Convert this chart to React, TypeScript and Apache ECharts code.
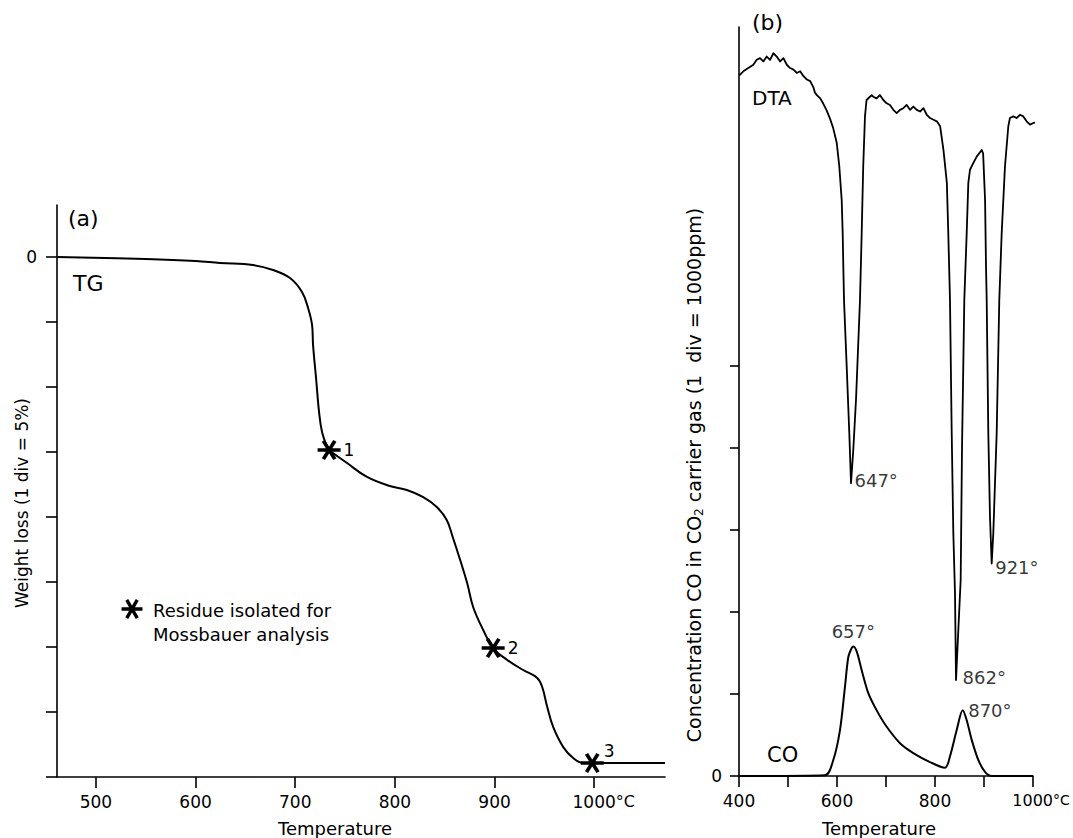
import React, { useEffect, useRef } from "react";
import * as echarts from "echarts";

// ---------- Panel (a): TG ----------
const tgTemp = [461, 550, 600, 624.5, 657.6, 677.7, 694.8, 706.8, 712.9, 716.9, 717.9, 720.9, 723.9, 726.9, 731.9, 734, 752, 772, 795, 812, 828, 842, 852, 858, 865.5, 872.5, 878.5, 888.6, 898.6, 912.7, 928.7, 942.8, 947.8, 952.8, 958.8, 968.9, 978.9, 989, 998, 1071];
const tgLoss = [0, 0.15, 0.3, 0.46, 0.62, 1.0, 1.62, 2.69, 3.92, 5.23, 6.77, 9.31, 11.92, 13.46, 14.6, 14.85, 15.85, 16.92, 17.62, 17.92, 18.46, 19.23, 20.23, 21.54, 23.31, 25.08, 26.92, 28.69, 30.08, 31.0, 31.77, 32.38, 33.08, 34.6, 36.15, 37.7, 38.54, 38.92, 38.92, 38.92];
const starTemp = [734, 898.6, 998];
const starLoss = [14.85, 30.08, 38.92];
const starLabels = ["1", "2", "3"];
const tgTicks = [0, 5, 10, 15, 20, 25, 30, 35, 40];
const tgTempTicks = [500, 600, 700, 800, 900, 1000];

// ---------- Panel (b): DTA and CO ----------
const dtaTemp = [400.7, 408.8, 419.0, 429.3, 436.1, 442.9, 449.7, 456.6, 463.4, 470.2, 477.0, 483.9, 490.7, 497.5, 504.3, 511.2, 518.0, 524.8, 531.6, 538.5, 545.3, 552.1, 555.0, 558.9, 565.8, 571.6, 578.4, 585.3, 592.1, 599.4, 604.7, 609.6, 611.6, 612.9, 614.3, 619.8, 625.1, 628.6, 633.3, 638.8, 646.9, 650.4, 653.5, 657.1, 660.3, 667.2, 670.8, 674.0, 680.8, 687.6, 694.5, 701.3, 708.1, 714.9, 721.8, 728.6, 735.4, 742.2, 749.1, 755.9, 762.7, 769.6, 776.4, 783.2, 790.0, 796.9, 803.7, 810.5, 817.3, 824.2, 827.1, 830.6, 834.1, 837.4, 840.8, 842.9, 847.6, 852.4, 855.1, 859.8, 864.7, 868.0, 871.4, 878.1, 885.1, 895.3, 898.2, 902.2, 904.1, 905.5, 908.8, 912.2, 915.7, 919.0, 925.9, 931.2, 936.1, 942.8, 949.6, 952.9, 959.7, 966.5, 973.4, 980.2, 987.0, 993.8, 1000.7, 1014.3, 1021.1];
const dtaVal = [8.54, 8.59, 8.63, 8.67, 8.73, 8.75, 8.71, 8.77, 8.73, 8.81, 8.77, 8.71, 8.75, 8.67, 8.63, 8.61, 8.57, 8.59, 8.53, 8.49, 8.47, 8.39, 8.33, 8.30, 8.26, 8.20, 8.12, 8.02, 7.90, 7.72, 7.43, 7.02, 6.62, 6.21, 5.80, 4.99, 4.18, 3.57, 3.98, 4.59, 5.80, 6.62, 7.43, 8.04, 8.24, 8.28, 8.30, 8.28, 8.26, 8.30, 8.24, 8.20, 8.18, 8.12, 8.08, 8.12, 8.14, 8.18, 8.12, 8.16, 8.12, 8.10, 8.14, 8.06, 8.02, 8.00, 7.98, 7.92, 7.63, 7.23, 6.62, 5.80, 4.18, 2.96, 2.23, 1.17, 1.78, 2.39, 3.98, 5.80, 6.62, 7.23, 7.39, 7.47, 7.55, 7.63, 7.59, 7.02, 6.21, 5.80, 4.18, 3.16, 2.59, 2.96, 4.18, 5.80, 6.62, 7.43, 7.92, 8.02, 8.04, 8.02, 8.06, 8.04, 7.98, 7.94, 7.96, 7.98, 7.99];
const coTemp = [400, 575.5, 592.4, 606.1, 616.3, 623.1, 630, 633.3, 640.2, 650.4, 663.9, 681, 701.4, 728.6, 755.7, 789.8, 820.4, 830.6, 844.3, 856.5, 864.7, 874.9, 888.4, 902, 915.7, 1000];
const coVal = [0, 0.01, 0.195, 0.56, 1.09, 1.45, 1.56, 1.58, 1.52, 1.29, 1.01, 0.80, 0.60, 0.40, 0.28, 0.17, 0.10, 0.24, 0.56, 0.80, 0.68, 0.44, 0.195, 0.05, 0, 0];
const peakTemp = [628.6, 842.9, 915.7, 633.3, 856.5];
const peakVal = [3.57, 1.17, 2.59, 1.58, 0.80];
const peakText = ["647°", "862°", "921°", "657°", "870°"];
const coTicks = [0, 1, 2, 3, 4, 5];
const bTempTicks = [400, 500, 600, 700, 800, 900, 1000];
const bTempLabels = [400, 600, 800, 1000];

const FONT = "DejaVu Sans";
const INK = "#000";

function asteriskPath(L: number, w: number): string {
  let d = "";
  for (const a of [0, 60, 120]) {
    const r = (a * Math.PI) / 180;
    const dx = Math.cos(r);
    const dy = Math.sin(r);
    const px = (-dy * w) / 2;
    const py = (dx * w) / 2;
    const pts = [
      [L * dx + px, L * dy + py],
      [L * dx - px, L * dy - py],
      [-L * dx - px, -L * dy - py],
      [-L * dx + px, -L * dy + py],
    ];
    d += "M" + pts.map((p) => p[0].toFixed(2) + " " + p[1].toFixed(2)).join(" L") + " Z ";
  }
  return d;
}

const STAR_D = asteriskPath(10, 3.2);
let registered = false;

export default function App() {
  const ref = useRef<HTMLDivElement>(null);
  useEffect(() => {
    if (!ref.current) return;
    if (!registered) {
      echarts.graphic.registerShape("asterisk", echarts.graphic.extendPath(STAR_D, {}) as any);
      registered = true;
    }
    const chart = echarts.init(ref.current, undefined, { renderer: "svg" });
    const axisLine = { show: true, onZero: false, lineStyle: { color: INK, width: 1.6 } };
    const labelBase = { color: INK, fontFamily: FONT, fontSize: 17 };

    const option: any = {
      animation: false,
      backgroundColor: "#fff",
      textStyle: { fontFamily: FONT, color: INK },
      grid: [
        { left: 57, top: 205, width: 608, height: 572, containLabel: false, outerBoundsMode: "none" },
        { left: 739, top: 27, width: 294, height: 749, containLabel: false, outerBoundsMode: "none" },
      ],
      xAxis: [
        {
          type: "value", gridIndex: 0, min: 461, max: 1071,
          axisLine, splitLine: { show: false },
          axisTick: { show: true, length: 11, customValues: tgTempTicks, lineStyle: { color: INK, width: 1.6 } },
          axisLabel: {
            ...labelBase, margin: 16, customValues: tgTempTicks,
            formatter: (v: number) => (v === 1000 ? "{u|1000}{c|°C}" : String(v)),
            rich: {
              u: { color: INK, fontFamily: FONT, fontSize: 17, padding: [0, 0, 0, 19] },
              c: { color: INK, fontFamily: FONT, fontSize: 16 },
            },
          },
          name: "Temperature", nameLocation: "middle", nameGap: 42,
          nameTextStyle: { color: INK, fontFamily: FONT, fontSize: 18, padding: [0, 52, 0, 0] },
        },
        {
          type: "value", gridIndex: 1, min: 400, max: 1000,
          axisLine, splitLine: { show: false },
          axisTick: { show: true, length: 11, customValues: bTempTicks, lineStyle: { color: INK, width: 1.6 } },
          axisLabel: {
            ...labelBase, margin: 16, customValues: bTempLabels,
            formatter: (v: number) => (v === 1000 ? "{u|1000}{c|°C}" : String(v)),
            rich: {
              u: { color: INK, fontFamily: FONT, fontSize: 16, padding: [0, 0, 0, 16] },
              c: { color: INK, fontFamily: FONT, fontSize: 14 },
            },
          },
          name: "Temperature", nameLocation: "middle", nameGap: 43,
          nameTextStyle: { color: INK, fontFamily: FONT, fontSize: 18, padding: [0, 14, 0, 0] },
        },
      ],
      yAxis: [
        {
          type: "value", gridIndex: 0, min: -4, max: 40, inverse: true,
          axisLine, splitLine: { show: false },
          axisTick: { show: true, length: 11, customValues: tgTicks, lineStyle: { color: INK, width: 1.6 } },
          axisLabel: { ...labelBase, margin: 20, customValues: [0] },
        },
        {
          type: "value", gridIndex: 1, min: 0, max: 9.13,
          axisLine, splitLine: { show: false },
          axisTick: { show: true, length: 9, customValues: coTicks, lineStyle: { color: INK, width: 1.6 } },
          axisLabel: { ...labelBase, margin: 17, customValues: [0] },
        },
      ],
      series: [
        {
          name: "TG", type: "line", xAxisIndex: 0, yAxisIndex: 0,
          data: tgTemp.map((t, i) => [t, tgLoss[i]]),
          showSymbol: false, symbol: "none", smooth: 0.4,
          lineStyle: { color: "#000", width: 2 },
        },
        {
          name: "Residue isolated for Mossbauer analysis", type: "scatter", xAxisIndex: 0, yAxisIndex: 0,
          symbol: "path://" + STAR_D, symbolSize: [23, 21], symbolKeepAspect: true,
          itemStyle: { color: "#000", opacity: 1 },
          data: starTemp.map((t, i) => ({
            value: [t, starLoss[i]],
            label: i === 2
              ? { show: true, formatter: starLabels[i], position: [23, -11], color: "#000", fontFamily: FONT, fontSize: 17 }
              : { show: true, formatter: starLabels[i], position: "right", distance: 3, color: "#000", fontFamily: FONT, fontSize: 17 },
          })),
          z: 5,
        },
        {
          name: "DTA", type: "line", xAxisIndex: 1, yAxisIndex: 1,
          data: dtaTemp.map((t, i) => [t, dtaVal[i]]),
          showSymbol: false, symbol: "none", clip: false,
          lineStyle: { color: "#000", width: 1.8, join: "round" },
        },
        {
          name: "CO", type: "line", xAxisIndex: 1, yAxisIndex: 1,
          data: coTemp.map((t, i) => [t, coVal[i]]),
          showSymbol: false, symbol: "none", smooth: 0.3,
          lineStyle: { color: "#000", width: 2 },
        },
        {
          name: "peaks", type: "scatter", xAxisIndex: 1, yAxisIndex: 1,
          symbolSize: 1, itemStyle: { color: "rgba(0,0,0,0)" },
          data: peakTemp.map((t, i) => ({
            value: [t, peakVal[i]],
            label: {
              show: true,
              formatter: peakText[i],
              position: i === 3 ? "top" : "right",
              distance: i === 3 ? 5 : i === 1 ? 6 : i === 4 ? 5 : 3,
              offset: i === 0 ? [0, -3] : i === 1 ? [0, -3] : i === 2 ? [0, 4] : [0, 0],
              color: "#000", fontFamily: FONT, fontSize: 18,
            },
          })),
        },
      ],
      graphic: [
        { type: "text", x: 68, y: 218, style: { text: "(a)", fill: INK, fontFamily: FONT, fontSize: 22, verticalAlign: "middle", textVerticalAlign: "middle" } },
        { type: "text", x: 73, y: 283, style: { text: "TG", fill: INK, fontFamily: FONT, fontSize: 22, verticalAlign: "middle", textVerticalAlign: "middle" } },
        {
          type: "text", x: 22, y: 503, rotation: Math.PI / 2,
          style: { text: "Weight loss (1 div = 5%)", fill: INK, fontFamily: FONT, fontSize: 17, align: "center", textAlign: "center", verticalAlign: "middle", textVerticalAlign: "middle" },
        },
        { type: "asterisk", x: 132, y: 609, scaleX: 1.05, scaleY: 1.05, style: { fill: "#000" } },
        { type: "text", x: 153, y: 610, style: { text: "Residue isolated for", fill: INK, fontFamily: FONT, fontSize: 18, verticalAlign: "middle", textVerticalAlign: "middle" } },
        { type: "text", x: 153, y: 634, style: { text: "Mossbauer analysis", fill: INK, fontFamily: FONT, fontSize: 18, verticalAlign: "middle", textVerticalAlign: "middle" } },
        { type: "text", x: 752, y: 22, style: { text: "(b)", fill: INK, fontFamily: FONT, fontSize: 22, verticalAlign: "middle", textVerticalAlign: "middle" } },
        { type: "text", x: 752, y: 98, style: { text: "DTA", fill: INK, fontFamily: FONT, fontSize: 20, verticalAlign: "middle", textVerticalAlign: "middle" } },
        { type: "text", x: 767, y: 755, style: { text: "CO", fill: INK, fontFamily: FONT, fontSize: 21, verticalAlign: "middle", textVerticalAlign: "middle" } },
        {
          type: "text", x: 694, y: 475, rotation: Math.PI / 2,
          style: {
            text: "Concentration CO in CO{sub|2} carrier gas (1  div = 1000ppm)",
            fill: INK, fontFamily: FONT, fontSize: 19,
            align: "center", textAlign: "center", verticalAlign: "middle", textVerticalAlign: "middle",
            rich: { sub: { fontFamily: FONT, fontSize: 12, fill: INK, padding: [10, 0, 0, 0] } },
          },
        },
      ],
    };
    chart.setOption(option);
    return () => chart.dispose();
  }, []);
  return <div ref={ref} style={{ position: "fixed", left: 0, top: 0, width: 1073, height: 838, background: "#fff" }} />;
}
